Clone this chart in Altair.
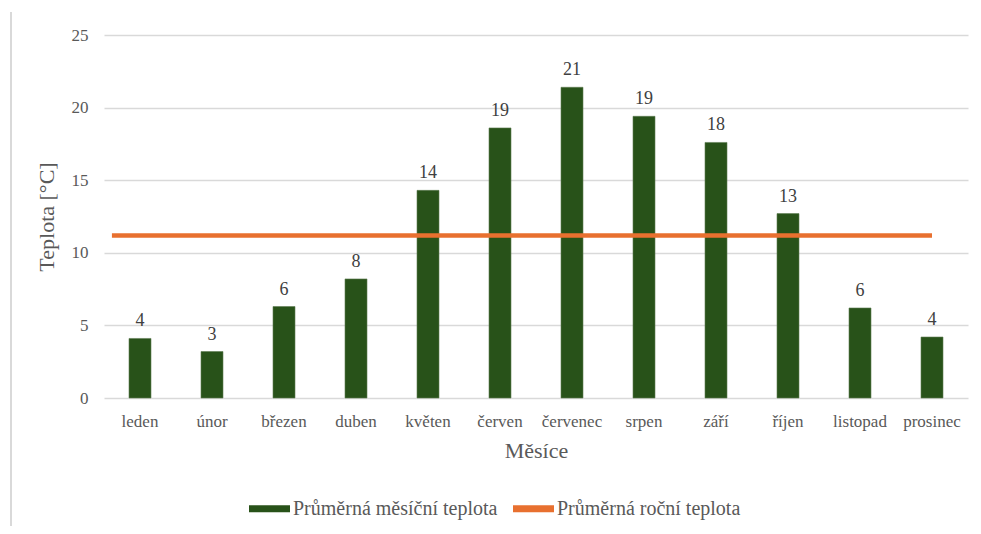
import altair as alt
import pandas as pd

months = ["leden", "únor", "březen", "duben", "květen", "červen",
          "červenec", "srpen", "září", "říjen", "listopad", "prosinec"]
temps = [4.1, 3.2, 6.3, 8.2, 14.3, 18.6, 21.4, 19.4, 17.6, 12.7, 6.2, 4.2]
annual_mean = 11.2
series_names = ["Průměrná měsíční teplota", "Průměrná roční teplota"]

FONT = "Liberation Serif, Times New Roman, DejaVu Serif, serif"
GREEN = "#285219"
ORANGE = "#E8702F"

bars_df = pd.DataFrame({"month": months, "temp": temps, "series": series_names[0]})
line_df = pd.DataFrame({"start": [months[0]], "end": [months[-1]],
                        "temp": [annual_mean], "series": [series_names[1]]})

color = alt.Color("series:N",
                  scale=alt.Scale(domain=series_names, range=[GREEN, ORANGE]),
                  legend=alt.Legend(title=None, orient="none", direction="horizontal",
                                    legendX=145, legendY=453, labelLimit=0,
                                    symbolType="M-1,-0.17H1V0.17H-1Z", symbolSize=1681,
                                    symbolStrokeWidth=0, labelOffset=3, columnPadding=15,
                                    labelFont=FONT, labelFontSize=20, labelColor="#595959"))

x_axis = alt.Axis(title="Měsíce", labelAngle=0, labelFont=FONT, labelFontSize=17,
                  labelColor="#595959", labelPadding=15, ticks=False, domain=False,
                  titleFont=FONT, titleFontSize=22, titleColor="#595959",
                  titleFontWeight="normal", titlePadding=11)
y_axis = alt.Axis(title="Teplota [°C]", values=[0, 5, 10, 15, 20, 25], labelFont=FONT,
                  labelFontSize=17, labelColor="#595959", labelPadding=16, ticks=False,
                  domain=False, gridColor="#D9D9D9", gridWidth=1.3,
                  titleFont=FONT, titleFontSize=22, titleColor="#595959",
                  titleFontWeight="normal", titlePadding=13)

base_x = alt.X("month:N", sort=months, scale=alt.Scale(domain=months, paddingInner=0, paddingOuter=0), axis=x_axis)

bars = alt.Chart(bars_df).mark_bar(size=22, stroke="#5E7C52", strokeWidth=0.6).encode(
    x=base_x,
    y=alt.Y("temp:Q", scale=alt.Scale(domain=[0, 25], nice=False, zero=True), axis=y_axis),
    color=color,
)

labels = alt.Chart(bars_df).mark_text(font=FONT, fontSize=18, color="#404040",
                                      baseline="bottom", dy=-8).encode(
    x=alt.X("month:N", sort=months),
    y="temp:Q",
    text=alt.Text("temp:Q", format=".0f"),
)

rule = alt.Chart(line_df).mark_rule(strokeWidth=4.5).encode(
    x=alt.X("start:N", sort=months, bandPosition=0.11),
    x2=alt.X2("end:N", bandPosition=0.5),
    y="temp:Q",
    color=color,
)

frame = alt.Chart(bars_df).mark_rule(color="#D9D9D9", strokeWidth=2).encode(
    x=alt.value(-93), y=alt.value(-23), y2=alt.value(496)
)

chart = alt.layer(frame, bars, rule, labels).properties(
    width=864, height=363,
    autosize=alt.AutoSizeParams(type="none"),
    padding={"left": 96, "top": 27, "right": 5, "bottom": 128},
).configure_view(stroke=None)

chart.save("out.html", embed_options={"renderer": "svg", "actions": False})
